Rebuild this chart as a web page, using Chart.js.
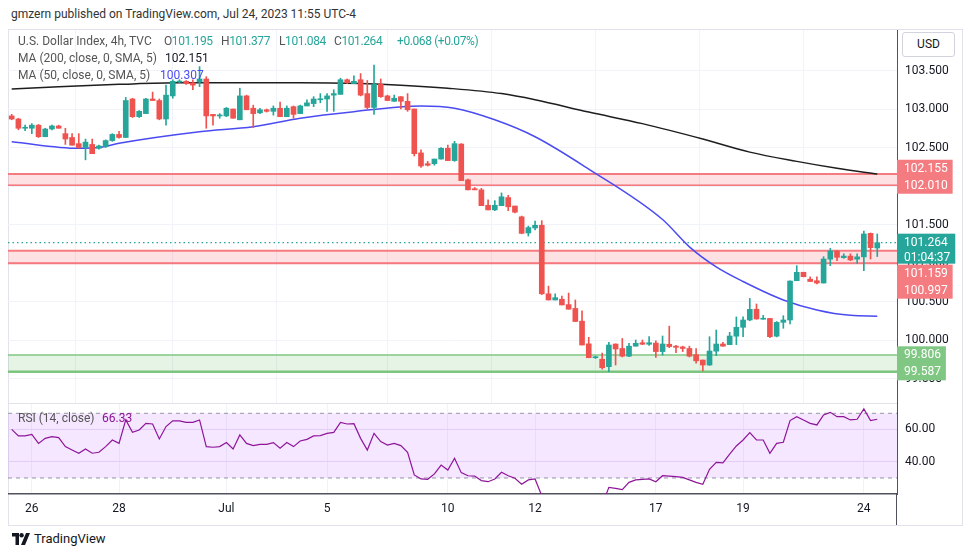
<!DOCTYPE html>
<html>
<head>
<meta charset="utf-8">
<title>U.S. Dollar Index 4h</title>
<script src="https://cdn.jsdelivr.net/npm/chart.js@4.4.0/dist/chart.umd.min.js"></script>
<style>
  body { margin: 0; width: 970px; height: 557px; background: #fff; position: relative; overflow: hidden;
         font-family: Roboto, 'Noto Sans', sans-serif; color: #131722; }
  .abs { position: absolute; }
  #title { left: 11px; top: 7px; font-size: 12px; color: #333; white-space: nowrap; }
  #frame { left: 8px; top: 29px; width: 953px; height: 495px; border: 1px solid #e0e3eb; }
  #mainWrap { left: 8px; top: 30px; width: 954px; height: 373px; }
  #rsiWrap { left: 8px; top: 403px; width: 954px; height: 122px; }
  #sep { left: 8px; top: 403px; width: 889px; height: 1px; background: #e0e3eb; }
  #axisTail { left: 896px; top: 494px; width: 1px; height: 31px; background: #50535e; }
  .lg { position: absolute; font-size: 12px; color: #555; white-space: nowrap; line-height: 17px; }
  .num { letter-spacing: -0.4px; }
  .up { color: #26a69a; }
  #usd { left: 902px; top: 32px; width: 51px; height: 23px; border: 1px solid #d1d4dc; border-radius: 3px;
         background: #fff; font-size: 12px; line-height: 23px; text-align: center; color: #131722; }
  #footer { left: 12px; top: 531px; font-size: 13px; color: #131722; display: flex; align-items: center; }
</style>
</head>
<body>
<div id="title" class="abs">gmzern published on TradingView.com, Jul 24, 2023 11:55 UTC-4</div>
<div id="frame" class="abs"></div>
<div id="mainWrap" class="abs"><canvas id="mainChart" width="954" height="373"></canvas></div>
<div id="rsiWrap" class="abs"><canvas id="rsiChart" width="954" height="122"></canvas></div>
<div id="sep" class="abs"></div>
<div id="axisTail" class="abs"></div>

<div class="lg" style="left:18px; top:33px;">U.S. Dollar Index, 4h, TVC</div>
<div class="lg num" style="left:164px; top:33px;">O<span class="up">101.195</span></div>
<div class="lg num" style="left:221px; top:33px;">H<span class="up">101.377</span></div>
<div class="lg num" style="left:279px; top:33px;">L<span class="up">101.084</span></div>
<div class="lg num" style="left:334px; top:33px;">C<span class="up">101.264</span></div>
<div class="lg num up" style="left:397px; top:33px;">+0.068 (+0.07%)</div>
<div class="lg" style="left:18px; top:50px;">MA (200, close, 0, SMA, 5)</div>
<div class="lg" style="left:165px; top:50px; color:#131722">102.151</div>
<div class="lg" style="left:18px; top:67px;">MA (50, close, 0, SMA, 5)</div>
<div class="lg" style="left:160px; top:67px; color:#4b4bf2">100.307</div>
<div class="lg" style="left:18px; top:410px;">RSI (14, close)</div>
<div class="lg" style="left:102px; top:410px; color:#8e1599">66.33</div>
<div id="usd" class="abs">USD</div>
<div id="footer" class="abs">
  <svg width="18" height="12" viewBox="0 0 18 12" style="margin-right:4px">
    <path d="M0 0h7v12h-3.5v-8.5h-3.5z" fill="#131722"/>
    <circle cx="9.6" cy="2.2" r="2.2" fill="#131722"/>
    <path d="M14 0h4l-5 12h-4z" fill="#131722"/>
  </svg>
  <span>TradingView</span>
</div>

<script>
// 4h candles, Jun 23 - Jul 24 2023
const opens = [102.91, 102.87, 102.75, 102.75, 102.79, 102.64, 102.74, 102.78, 102.68, 102.63,
  102.55, 102.50, 102.54, 102.49, 102.51, 102.59, 102.67, 102.63, 103.13, 102.90,
  102.94, 103.13, 103.11, 102.87, 103.17, 103.35, 103.36, 103.34, 103.35, 103.39,
  102.93, 102.91, 102.91, 103.00, 102.86, 103.17, 103.01, 102.95, 102.99, 102.97,
  103.01, 102.90, 103.03, 102.94, 103.04, 103.07, 103.12, 103.13, 103.18, 103.19,
  103.38, 103.33, 103.38, 103.20, 103.02, 103.32, 103.17, 103.10, 103.16, 103.10,
  103.00, 102.43, 102.29, 102.29, 102.35, 102.49, 102.33, 102.545, 102.08, 101.965,
  101.95, 101.75, 101.69, 101.745, 101.85, 101.74, 101.60, 101.39, 101.455, 101.49,
  100.60, 100.52, 100.53, 100.46, 100.41, 100.245, 99.95, 99.77, 99.75, 99.654,
  99.948, 99.89, 99.79, 99.92, 99.965, 99.945, 99.96, 99.85, 99.945, 99.92,
  99.91, 99.89, 99.81, 99.74, 99.675, 99.855, 99.948, 99.94, 100.05, 100.165,
  100.26, 100.40, 100.27, 100.28, 100.05, 100.23, 100.26, 100.77, 100.88, 100.79,
  100.77, 100.74, 101.05, 101.156, 101.07, 101.09, 101.05, 101.08, 101.385, 101.195];
const highs = [102.93, 102.88, 102.79, 102.81, 102.80, 102.75, 102.79, 102.79, 102.75, 102.68,
  102.68, 102.61, 102.61, 102.53, 102.60, 102.68, 102.71, 103.15, 103.14, 102.98,
  103.14, 103.22, 103.13, 103.31, 103.38, 103.38, 103.37, 103.38, 103.55, 103.42,
  102.93, 102.94, 103.02, 103.00, 103.27, 103.18, 103.05, 103.01, 103.00, 103.04,
  103.09, 103.04, 103.04, 103.05, 103.12, 103.16, 103.20, 103.20, 103.25, 103.40,
  103.39, 103.43, 103.46, 103.37, 103.57, 103.39, 103.18, 103.18, 103.16, 103.20,
  103.00, 102.47, 102.32, 102.35, 102.50, 102.53, 102.58, 102.55, 102.09, 101.98,
  101.97, 101.82, 101.81, 101.91, 101.88, 101.74, 101.61, 101.48, 101.545, 101.55,
  100.70, 100.60, 100.57, 100.61, 100.52, 100.38, 100.035, 99.79, 99.83, 99.97,
  99.95, 100.02, 99.957, 100.00, 100.00, 100.043, 99.99, 100.052, 100.18, 99.93,
  99.92, 99.92, 99.89, 99.74, 100.043, 100.13, 99.97, 100.10, 100.30, 100.30,
  100.54, 100.468, 100.32, 100.28, 100.24, 100.316, 100.77, 100.965, 100.88, 100.82,
  100.82, 101.082, 101.19, 101.16, 101.12, 101.12, 101.12, 101.416, 101.39, 101.377];
const lows = [102.86, 102.73, 102.72, 102.68, 102.63, 102.64, 102.73, 102.75, 102.54, 102.53,
  102.49, 102.34, 102.42, 102.48, 102.50, 102.58, 102.62, 102.63, 102.89, 102.89,
  102.94, 103.11, 102.86, 102.79, 103.14, 103.34, 103.32, 103.25, 103.29, 102.75,
  102.79, 102.88, 102.90, 102.88, 102.86, 102.99, 102.76, 102.94, 102.96, 102.92,
  102.90, 102.90, 102.88, 102.94, 103.04, 103.03, 103.08, 102.97, 102.97, 103.19,
  103.33, 103.33, 103.17, 103.00, 102.93, 103.15, 103.11, 103.10, 103.00, 102.97,
  102.39, 102.24, 102.26, 102.27, 102.35, 102.33, 102.32, 102.07, 101.95, 101.95,
  101.745, 101.69, 101.68, 101.745, 101.68, 101.65, 101.38, 101.35, 101.43, 100.59,
  100.52, 100.52, 100.455, 100.40, 100.24, 99.935, 99.77, 99.76, 99.62, 99.59,
  99.675, 99.78, 99.785, 99.92, 99.94, 99.93, 99.775, 99.805, 99.90, 99.835,
  99.85, 99.78, 99.70, 99.60, 99.67, 99.797, 99.92, 99.94, 99.94, 100.043,
  100.25, 100.27, 100.27, 100.03, 100.04, 100.152, 100.208, 100.77, 100.82, 100.76,
  100.73, 100.74, 100.965, 101.03, 101.06, 101.03, 100.996, 100.90, 101.052, 101.084];
const closes = [102.87, 102.75, 102.76, 102.79, 102.64, 102.74, 102.78, 102.75, 102.61, 102.53,
  102.50, 102.57, 102.42, 102.52, 102.59, 102.67, 102.63, 103.11, 102.90, 102.97,
  103.13, 103.11, 102.87, 103.18, 103.36, 103.36, 103.33, 103.31, 103.39, 102.91,
  102.91, 102.92, 103.01, 102.88, 103.17, 102.99, 102.94, 102.99, 102.97, 103.01,
  102.90, 103.01, 102.93, 103.04, 103.08, 103.13, 103.13, 103.17, 103.20, 103.38,
  103.34, 103.36, 103.18, 103.02, 103.32, 103.16, 103.11, 103.14, 103.10, 102.99,
  102.42, 102.26, 102.27, 102.35, 102.49, 102.33, 102.55, 102.07, 101.95, 101.95,
  101.745, 101.69, 101.75, 101.86, 101.73, 101.66, 101.385, 101.46, 101.49, 100.60,
  100.52, 100.55, 100.455, 100.40, 100.24, 99.935, 99.77, 99.78, 99.64, 99.935,
  99.883, 99.79, 99.92, 99.957, 99.945, 99.965, 99.85, 99.948, 99.915, 99.905,
  99.89, 99.79, 99.73, 99.675, 99.857, 99.948, 99.92, 100.052, 100.165, 100.26,
  100.398, 100.273, 100.28, 100.043, 100.229, 100.26, 100.766, 100.879, 100.822, 100.76,
  100.74, 101.052, 101.156, 101.074, 101.09, 101.04, 101.08, 101.377, 101.199, 101.264];

// moving averages at a few candles
const ma200Idx = [0, 7, 16, 25, 34, 43, 52, 58, 65, 73, 78, 86, 94, 103, 110, 117, 123, 129];
const ma200Val = [103.26, 103.29, 103.32, 103.34, 103.34, 103.34, 103.33, 103.31, 103.27, 103.20,
  103.12, 102.96, 102.81, 102.61, 102.44, 102.32, 102.23, 102.155];
const ma50Idx = [0, 10, 13, 16, 28, 36, 43, 51, 61, 66, 72, 78, 86, 97, 101, 105, 109, 115, 120, 125, 129];
const ma50Val = [102.575, 102.49, 102.50, 102.555, 102.705, 102.77, 102.88, 102.965, 103.04, 103.01,
  102.86, 102.64, 102.22, 101.565, 101.21, 100.95, 100.76, 100.52, 100.39, 100.32, 100.31];

const rsiVals = [60.1, 56.0, 56.0, 57.0, 51.4, 54.5, 55.6, 55.0, 49.4, 47.3,
  45.3, 47.9, 45.3, 45.9, 49.4, 53.5, 51.4, 65.9, 58.2, 59.7,
  63.8, 63.4, 54.1, 61.8, 65.3, 65.3, 64.4, 64.4, 65.9, 49.4,
  49.0, 49.4, 51.9, 47.9, 56.6, 51.4, 50.0, 50.8, 50.8, 51.9,
  48.4, 51.9, 49.4, 52.9, 53.9, 56.0, 56.2, 57.6, 58.2, 64.4,
  63.4, 63.6, 54.5, 47.3, 57.6, 52.5, 50.4, 51.4, 50.0, 45.9,
  31.9, 29.4, 29.2, 32.5, 38.0, 34.9, 42.2, 33.3, 31.4, 31.2,
  28.4, 27.7, 29.4, 33.5, 31.4, 29.8, 26.1, 28.8, 29.4, 19.0,
  17.0, 17.5, 16.5, 15.5, 13.0, 10.0, 8.5, 9.0, 13.5, 24.2,
  23.6, 22.8, 27.3, 28.8, 29.2, 29.4, 27.7, 31.4, 31.2, 30.8,
  30.4, 28.8, 27.3, 26.1, 35.4, 39.7, 39.3, 44.8, 49.8, 53.5,
  58.0, 53.5, 53.5, 45.3, 51.4, 52.1, 65.5, 67.9, 65.9, 63.8,
  62.8, 69.0, 70.6, 67.9, 67.9, 65.9, 66.3, 72.7, 65.5, 66.33];

// x axis day labels (candle index of first bar of the day)
const dayTickIdx = [3, 16, 32, 47, 65, 78, 96, 109, 127];
const dayTickText = ['26', '28', 'Jul', '5', '10', '12', '17', '19', '24'];

const priceTicks = [99.5, 100, 100.5, 101, 101.5, 102, 102.5, 103, 103.5];
const rsiTicks = [40, 60];

// horizontal zones [upper, lower]
const resistHigh = [102.155, 102.010];
const resistLow = [101.159, 100.997];
const supportZone = [99.806, 99.587];
const lastPrice = 101.264;
const countdown = '01:04:37';

const UP = '#26a69a', DOWN = '#ef5350';
const ZONE_RED = '#f47b80', ZONE_GREEN = '#80c783';
const X_MIN = -0.55, X_MAX = 131.94;
const GRID = '#f0f3fa';

const candleColors = opens.map((o, i) => closes[i] >= o ? UP : DOWN);

function hLine(v, color, width, extra) {
    return Object.assign({
        type: 'line',
        data: [{x: X_MIN, y: v}, {x: X_MAX, y: v}],
        borderColor: color,
        borderWidth: width,
        pointRadius: 0,
        fill: false,
        order: 10
    }, extra || {});
}

function fixedAxis(size) {
    return function(scale) {
        if (scale.isHorizontal()) scale.height = size; else scale.width = size;
        scale.paddingTop = 0; scale.paddingBottom = 0;
        scale.paddingLeft = 0; scale.paddingRight = 0;
    };
}

function dayTicks(scale) {
    scale.ticks = dayTickIdx.map(v => ({value: v}));
}

function dayLabel(value) {
    const k = dayTickIdx.indexOf(value);
    return k >= 0 ? dayTickText[k] : '';
}

// badges on the price scale
const badgePlugin = {
    id: 'badges',
    afterDraw(chart) {
        const {ctx, chartArea, scales: {y}} = chart;
        const x0 = chartArea.right;
        ctx.save();
        ctx.font = '12px Roboto';
        ctx.textBaseline = 'middle';
        ctx.textAlign = 'left';

        function box(top, h, w, color, texts) {
            ctx.fillStyle = color;
            ctx.fillRect(x0, top, w, h);
            ctx.fillStyle = '#fff';
            texts.forEach(t => ctx.fillText(t[0], x0 + 7, t[1]));
        }

        const yl = y.getPixelForValue(lastPrice);
        const tealTop = yl - 9;
        const tw = Math.max(ctx.measureText(lastPrice.toFixed(3)).width, ctx.measureText(countdown).width) + 12;
        box(tealTop, 30, tw, UP, [[lastPrice.toFixed(3), yl + 0.5], [countdown, yl + 15.5]]);

        function zone(z, color, minTop) {
            let l1 = y.getPixelForValue(z[0]);
            let l2 = y.getPixelForValue(z[1]);
            if (l2 - l1 < 17) l1 = l2 - 17;
            if (minTop !== undefined && l1 - 8.5 < minTop) {
                l1 = minTop + 8.5;
                l2 = Math.max(l2, l1 + 17);
            }
            const a = z[0].toFixed(3), b = z[1].toFixed(3);
            const w = Math.max(ctx.measureText(a).width, ctx.measureText(b).width) + 12;
            box(l1 - 8.5, l2 - l1 + 17, w, color, [[a, l1 + 0.5], [b, l2 + 0.5]]);
        }
        zone(resistHigh, ZONE_RED);
        zone(resistLow, ZONE_RED, tealTop + 31);
        zone(supportZone, ZONE_GREEN);
        ctx.restore();
    }
};

const xGrid = {color: GRID, drawTicks: false};

new Chart(document.getElementById('mainChart'), {
    type: 'bar',
    data: {
        datasets: [
            {
                label: 'body',
                data: opens.map((o, i) => ({x: i, y: [o, closes[i]]})),
                backgroundColor: candleColors,
                barThickness: 5,
                minBarLength: 1,
                grouped: false,
                order: 0
            },
            {
                label: 'wick',
                data: lows.map((l, i) => ({x: i, y: [l, highs[i]]})),
                backgroundColor: candleColors,
                barThickness: 1,
                grouped: false,
                order: 1
            },
            {
                type: 'line',
                label: 'MA 200',
                data: ma200Idx.map((x, k) => ({x: x, y: ma200Val[k]})),
                borderColor: '#1e1e1e',
                borderWidth: 1.5,
                pointRadius: 0,
                cubicInterpolationMode: 'monotone',
                order: 2
            },
            {
                type: 'line',
                label: 'MA 50',
                data: ma50Idx.map((x, k) => ({x: x, y: ma50Val[k]})),
                borderColor: '#4b4bf2',
                borderWidth: 1.5,
                pointRadius: 0,
                cubicInterpolationMode: 'monotone',
                order: 2
            },
            hLine(lastPrice, UP, 1.2, {borderDash: [1.5, 3], order: 3}),
            hLine(resistHigh[0], ZONE_RED, 2, {fill: '+1', backgroundColor: 'rgba(242, 54, 69, 0.15)'}),
            hLine(resistHigh[1], ZONE_RED, 1.5),
            hLine(resistLow[0], ZONE_RED, 2, {fill: '+1', backgroundColor: 'rgba(242, 54, 69, 0.15)'}),
            hLine(resistLow[1], ZONE_RED, 2),
            hLine(supportZone[0], ZONE_GREEN, 1.5, {fill: '+1', backgroundColor: 'rgba(76, 175, 80, 0.14)'}),
            hLine(supportZone[1], ZONE_GREEN, 2.5)
        ]
    },
    options: {
        responsive: false,
        animation: false,
        events: [],
        layout: {padding: 0},
        plugins: {legend: {display: false}, tooltip: {enabled: false}},
        scales: {
            x: {
                type: 'linear',
                min: X_MIN,
                max: X_MAX,
                offset: false,
                grid: xGrid,
                border: {display: false},
                ticks: {display: false},
                afterBuildTicks: dayTicks,
                afterFit: fixedAxis(0)
            },
            y: {
                position: 'right',
                min: 99.182,
                max: 104.026,
                beginAtZero: false,
                grid: {color: GRID, drawTicks: false},
                border: {display: true, color: '#50535e', width: 1},
                ticks: {
                    padding: 8,
                    color: '#131722',
                    font: {family: 'Roboto', size: 12},
                    callback: v => v.toFixed(3)
                },
                afterBuildTicks: s => { s.ticks = priceTicks.map(v => ({value: v})); },
                afterFit: fixedAxis(65)
            }
        }
    },
    plugins: [badgePlugin]
});

new Chart(document.getElementById('rsiChart'), {
    type: 'line',
    data: {
        datasets: [
            {
                label: 'RSI',
                data: rsiVals.map((v, i) => ({x: i, y: v})),
                borderColor: '#8e1599',
                borderWidth: 1.2,
                pointRadius: 0,
                tension: 0,
                clip: 0,
                order: 0
            },
            hLine(70, '#9598a1', 1, {borderDash: [4, 4], fill: '+1', backgroundColor: 'rgba(153, 21, 255, 0.1)', order: 5}),
            hLine(30, '#9598a1', 1, {borderDash: [4, 4], order: 5})
        ]
    },
    options: {
        responsive: false,
        animation: false,
        events: [],
        layout: {padding: 0},
        plugins: {legend: {display: false}, tooltip: {enabled: false}},
        scales: {
            x: {
                type: 'linear',
                min: X_MIN,
                max: X_MAX,
                offset: false,
                grid: xGrid,
                border: {display: true, color: '#50535e', width: 1.5},
                ticks: {
                    padding: 8,
                    maxRotation: 0,
                    autoSkip: false,
                    color: '#131722',
                    font: {family: 'Roboto', size: 12},
                    callback: dayLabel
                },
                afterBuildTicks: dayTicks,
                afterFit: fixedAxis(31)
            },
            y: {
                position: 'right',
                min: 20.1,
                max: 76.37,
                grid: {color: '#ebe3f5', drawTicks: false},
                border: {display: true, color: '#50535e', width: 1},
                ticks: {
                    padding: 8,
                    color: '#131722',
                    font: {family: 'Roboto', size: 12},
                    callback: v => v.toFixed(2)
                },
                afterBuildTicks: s => { s.ticks = rsiTicks.map(v => ({value: v})); },
                afterFit: fixedAxis(65)
            }
        }
    }
});
</script>
</body>
</html>
